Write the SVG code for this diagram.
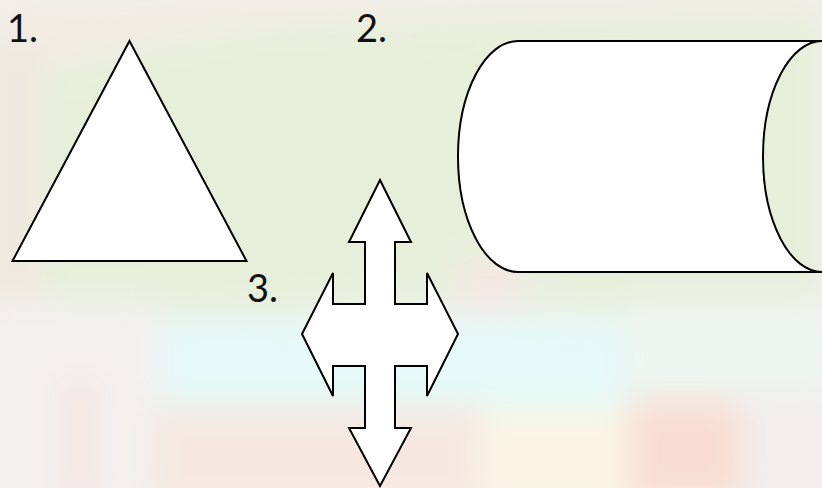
<svg xmlns="http://www.w3.org/2000/svg" width="822" height="488" viewBox="0 0 822 488">
  <defs>
    <filter id="blur" x="-20%" y="-20%" width="140%" height="140%">
      <feGaussianBlur stdDeviation="16"/>
    </filter>
  </defs>
  <style>
    .shape { fill: #ffffff; stroke: #000000; stroke-width: 2; stroke-linejoin: miter; }
    .label { font-family: Lato, "Liberation Sans", sans-serif; font-size: 38px; fill: #111111; }
  </style>

  <!-- faded background -->
  <g id="background">
    <rect x="0" y="0" width="822" height="488" fill="#f1f0ec"/>
    <g filter="url(#blur)">
      <polygon points="40,70 260,25 822,10 822,300 700,330 560,300 420,300 250,310 40,310" fill="#e7efda"/>
      <polygon points="0,0 822,0 822,14 500,18 260,20 80,60 0,80" fill="#f2ece4"/>
      <rect x="-20" y="40" width="60" height="260" fill="#efe8e0"/>
      <rect x="-20" y="300" width="180" height="210" fill="#f3f1f0"/>
      <rect x="160" y="320" width="460" height="90" fill="#e4f9f8"/>
      <rect x="620" y="300" width="220" height="110" fill="#edf5f1"/>
      <rect x="150" y="405" width="330" height="100" fill="#f6e8e1"/>
      <rect x="480" y="410" width="150" height="100" fill="#fbf4e4"/>
      <rect x="630" y="400" width="110" height="100" fill="#f9ddd2"/>
      <rect x="740" y="390" width="100" height="110" fill="#f2eeee"/>
      <rect x="460" y="262" width="60" height="40" fill="#f5e6e4"/>
      <rect x="60" y="380" width="40" height="120" fill="#f5e6e2"/>
    </g>
  </g>

  <!-- 1. triangle -->
  <g id="node-1">
    <text class="label" x="7" y="42">1.</text>
    <polygon class="shape" points="129.5,41 246.5,261 12.5,261"/>
  </g>

  <!-- 2. horizontal cylinder -->
  <g id="node-2">
    <text class="label" x="356" y="42">2.</text>
    <path class="shape" d="M518,41 H822 A59,115.5 0 0 0 822,272 H518 A60,115.5 0 0 1 518,41 Z"/>
  </g>

  <!-- 3. four-way arrow -->
  <g id="node-3">
    <text class="label" x="247" y="302">3.</text>
    <polygon class="shape" points="380,180 411,242 395,242 395,304 427,304 427,273 458,334 427,396 427,366 395,366 395,428 411,428 380,486 349,428 365,428 365,366 333,366 333,396 302,334 333,273 333,304 365,304 365,242 349,242"/>
  </g>

  <g id="connectors"></g>
</svg>
